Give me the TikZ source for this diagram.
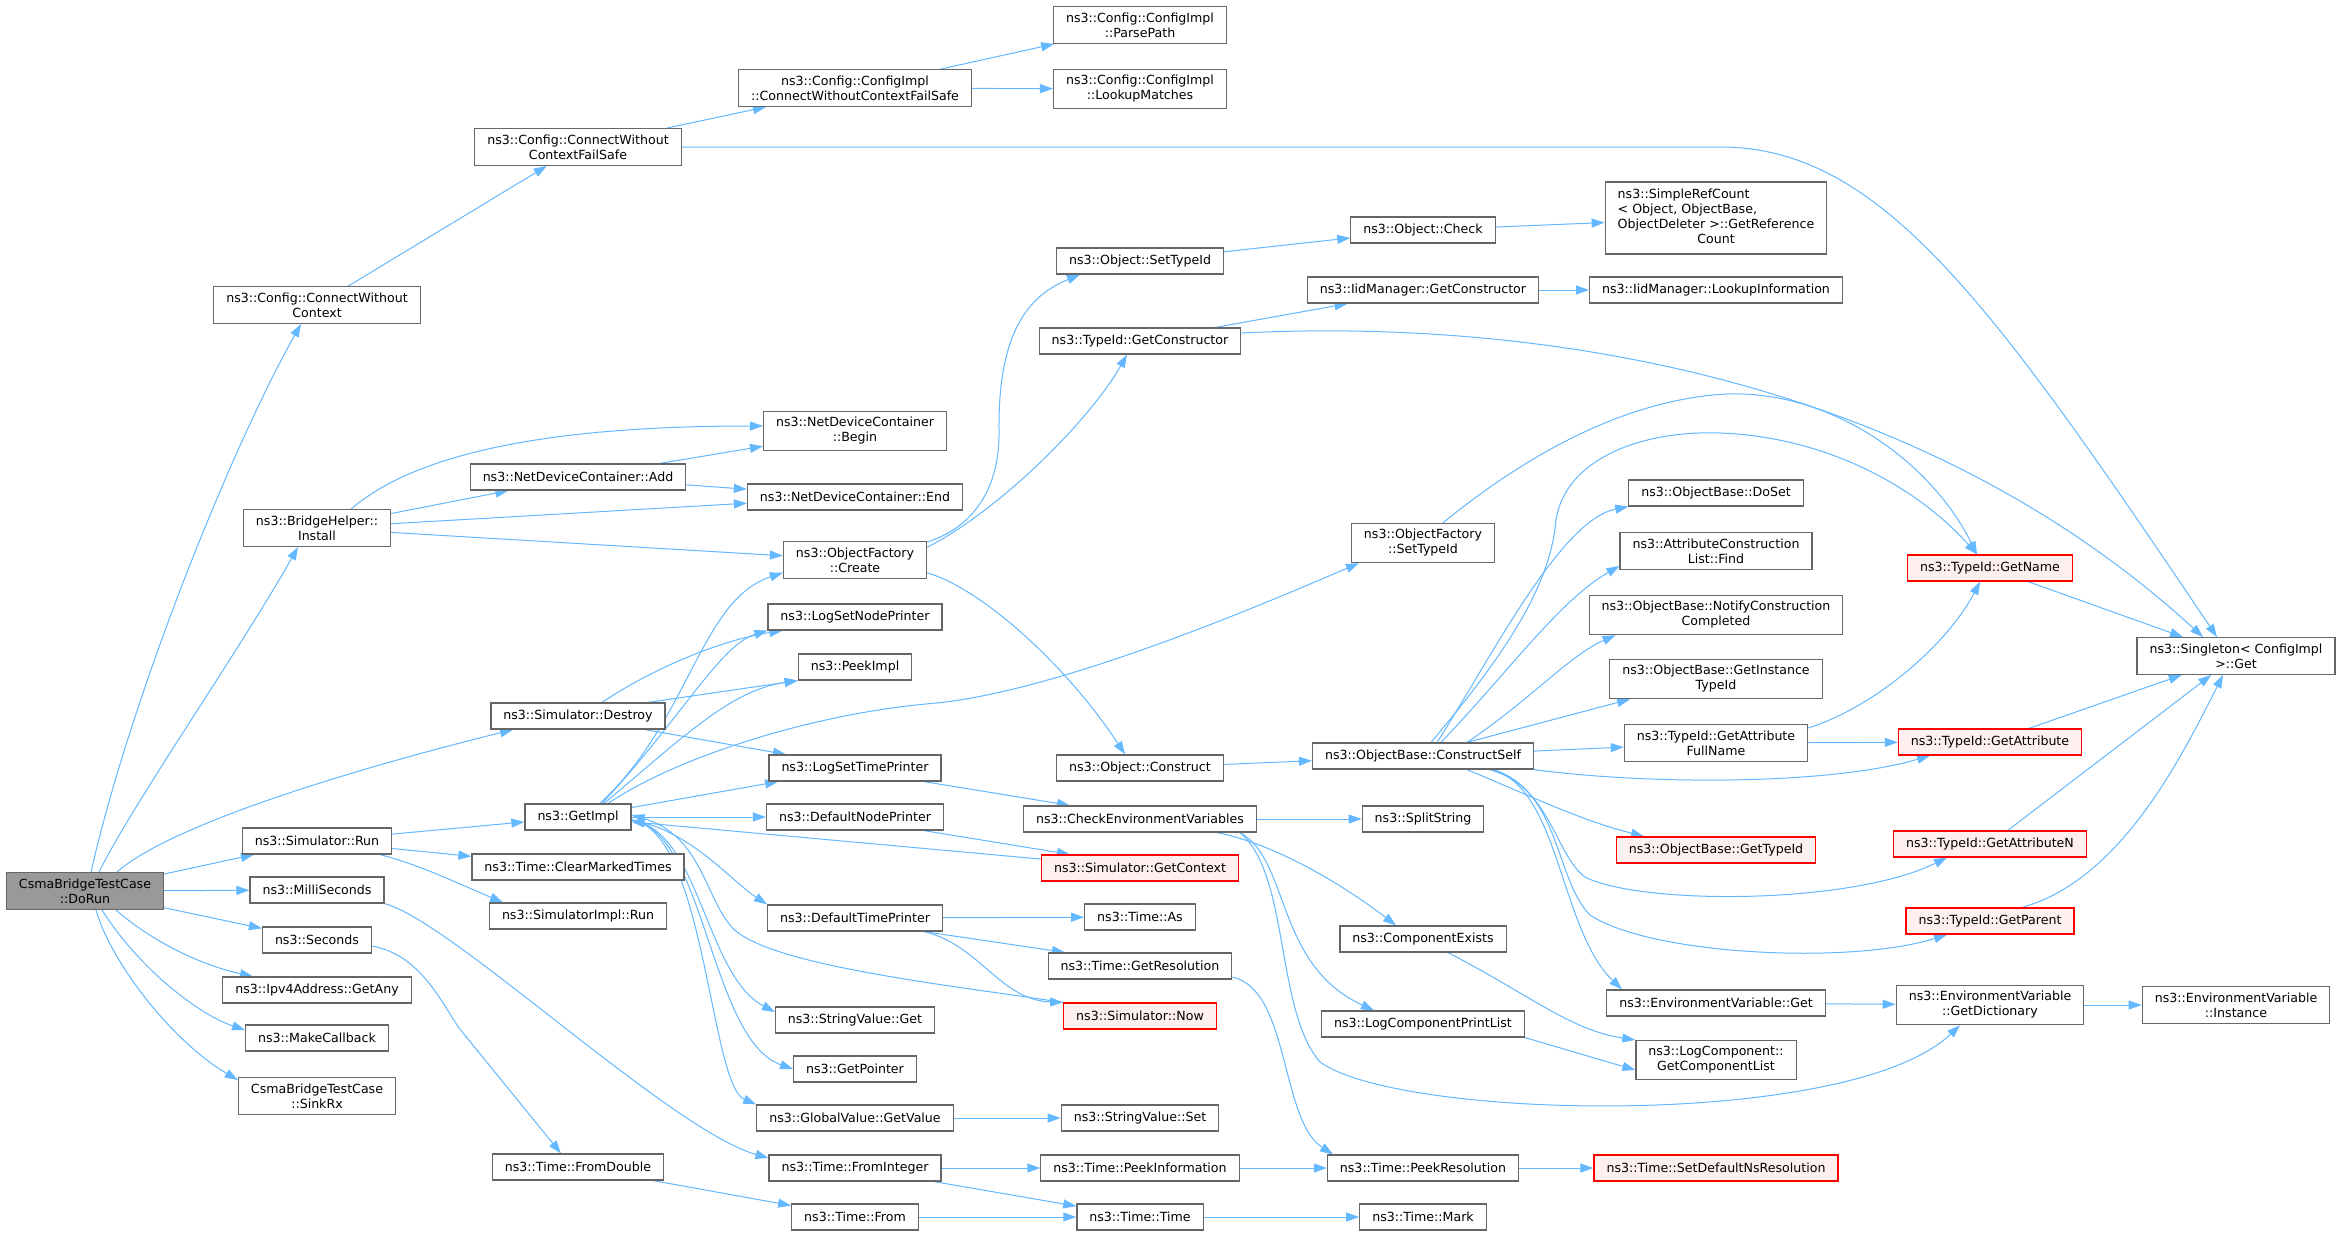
\documentclass[tikz,border=0pt]{standalone}
\usepackage{fontspec}
\setmainfont{DejaVu Sans}
\usepackage{xcolor}
\usetikzlibrary{arrows.meta}
\definecolor{edgeblue}{HTML}{63B8FF}
\definecolor{boxgray}{HTML}{666666}
\definecolor{redfill}{HTML}{FFF0F0}
\definecolor{maingray}{HTML}{999999}
\newcommand{\dxfont}{\fontsize{12.6pt}{15pt}\selectfont}
\pgfdeclarelayer{edges}
\pgfsetlayers{edges,main}
\begin{document}
\begin{tikzpicture}[x=1pt,y=-1pt,>={Triangle[length=13pt,width=9pt]},
        fn/.style={draw=boxgray,line width=1.2pt,fill=white,font=\dxfont,align=center,
                inner xsep=12.5pt,inner ysep=6pt,minimum height=26pt},
        fnred/.style={fn,draw=red,fill=redfill},
        fnmain/.style={fn,fill=maingray},
        call/.style={draw=edgeblue,line width=1pt,->}]
        \useasboundingbox (0,0) rectangle (2341,1235);

        \node[fnmain] (dorun) at (85,891) {CsmaBridgeTestCase\\::DoRun};
        \node[fn] (cwc) at (317,305) {ns3::Config::ConnectWithout\\Context};
        \node[fn] (install) at (317,528) {ns3::BridgeHelper::\\Install};
        \node[fn] (run) at (317,841) {ns3::Simulator::Run};
        \node[fn] (milli) at (317,890) {ns3::MilliSeconds};
        \node[fn] (secs) at (317,940) {ns3::Seconds};
        \node[fn] (getany) at (317,990) {ns3::Ipv4Address::GetAny};
        \node[fn] (mkcb) at (317,1038) {ns3::MakeCallback};
        \node[fn] (sinkrx) at (317,1096) {CsmaBridgeTestCase\\::SinkRx};

        \node[fn] (cwcfs) at (578,147) {ns3::Config::ConnectWithout\\ContextFailSafe};
        \node[fn] (ndcadd) at (578,477) {ns3::NetDeviceContainer::Add};
        \node[fn] (destroy) at (578,716) {ns3::Simulator::Destroy};
        \node[fn] (gimpl) at (578,817) {ns3::GetImpl};
        \node[fn] (clrmark) at (578,867) {ns3::Time::ClearMarkedTimes};
        \node[fn] (simrun) at (578,916) {ns3::SimulatorImpl::Run};
        \node[fn] (fromdbl) at (578,1167) {ns3::Time::FromDouble};

        \node[fn] (cfs) at (855,88) {ns3::Config::ConfigImpl\\::ConnectWithoutContextFailSafe};
        \node[fn] (ndcbegin) at (855,431) {ns3::NetDeviceContainer\\::Begin};
        \node[fn] (ndcend) at (855,497) {ns3::NetDeviceContainer::End};
        \node[fn] (create) at (855,560) {ns3::ObjectFactory\\::Create};
        \node[fn] (lsnp) at (855,617) {ns3::LogSetNodePrinter};
        \node[fn] (peek) at (855,667) {ns3::PeekImpl};
        \node[fn] (lstp) at (855,768) {ns3::LogSetTimePrinter};
        \node[fn] (dnp) at (855,817) {ns3::DefaultNodePrinter};
        \node[fn] (dtp) at (855,918) {ns3::DefaultTimePrinter};
        \node[fn] (svget) at (855,1020) {ns3::StringValue::Get};
        \node[fn] (gptr) at (855,1069) {ns3::GetPointer};
        \node[fn] (gvget) at (855,1118) {ns3::GlobalValue::GetValue};
        \node[fn] (fromint) at (855,1168) {ns3::Time::FromInteger};
        \node[fn] (tfrom) at (855,1217) {ns3::Time::From};

        \node[fn] (parse) at (1140,25) {ns3::Config::ConfigImpl\\::ParsePath};
        \node[fn] (lookup) at (1140,89) {ns3::Config::ConfigImpl\\::LookupMatches};
        \node[fn] (osti) at (1140,261) {ns3::Object::SetTypeId};
        \node[fn] (tgctor) at (1140,341) {ns3::TypeId::GetConstructor};
        \node[fn] (construct) at (1140,768) {ns3::Object::Construct};
        \node[fn] (chkenv) at (1140,819) {ns3::CheckEnvironmentVariables};
        \node[fnred] (gctx) at (1140,868) {ns3::Simulator::GetContext};
        \node[fn] (tas) at (1140,917) {ns3::Time::As};
        \node[fn] (gres) at (1140,966) {ns3::Time::GetResolution};
        \node[fnred] (now) at (1140,1016) {ns3::Simulator::Now};
        \node[fn] (svset) at (1140,1118) {ns3::StringValue::Set};
        \node[fn] (peekinfo) at (1140,1168) {ns3::Time::PeekInformation};
        \node[fn] (ttime) at (1140,1217) {ns3::Time::Time};

        \node[fn] (check) at (1423,230) {ns3::Object::Check};
        \node[fn] (igctor) at (1423,290) {ns3::IidManager::GetConstructor};
        \node[fn] (ofsti) at (1423,543) {ns3::ObjectFactory\\::SetTypeId};
        \node[fn] (cself) at (1423,756) {ns3::ObjectBase::ConstructSelf};
        \node[fn] (split) at (1423,819) {ns3::SplitString};
        \node[fn] (compex) at (1423,939) {ns3::ComponentExists};
        \node[fn] (lcpl) at (1423,1024) {ns3::LogComponentPrintList};
        \node[fn] (peekres) at (1423,1168) {ns3::Time::PeekResolution};
        \node[fn] (tmark) at (1423,1217) {ns3::Time::Mark};

        \node[fn] (srcount) at (1716,218) {\begin{tabular}{@{}l@{}}ns3::SimpleRefCount\\< Object, ObjectBase,\\ObjectDeleter >::GetReference\\\multicolumn{1}{@{}c@{}}{Count}\end{tabular}};
        \node[fn] (lookinfo) at (1716,290) {ns3::IidManager::LookupInformation};
        \node[fn] (doset) at (1716,493) {ns3::ObjectBase::DoSet};
        \node[fn] (acfind) at (1716,551) {ns3::AttributeConstruction\\List::Find};
        \node[fn] (notify) at (1716,615) {ns3::ObjectBase::NotifyConstruction\\Completed};
        \node[fn] (ginst) at (1716,679) {ns3::ObjectBase::GetInstance\\TypeId};
        \node[fn] (gafull) at (1716,743) {ns3::TypeId::GetAttribute\\FullName};
        \node[fnred] (obgtid) at (1716,850) {ns3::ObjectBase::GetTypeId};
        \node[fn] (evget) at (1716,1003) {ns3::EnvironmentVariable::Get};
        \node[fn] (gclist) at (1716,1060) {ns3::LogComponent::\\GetComponentList};
        \node[fnred] (setdef) at (1716,1168) {ns3::Time::SetDefaultNsResolution};

        \node[fnred] (gname) at (1990,568) {ns3::TypeId::GetName};
        \node[fnred] (gattr) at (1990,742) {ns3::TypeId::GetAttribute};
        \node[fnred] (gattrn) at (1990,844) {ns3::TypeId::GetAttributeN};
        \node[fnred] (gparent) at (1990,921) {ns3::TypeId::GetParent};
        \node[fn] (gdict) at (1990,1005) {ns3::EnvironmentVariable\\::GetDictionary};

        \node[fn] (single) at (2236,656) {ns3::Singleton< ConfigImpl\\>::Get};
        \node[fn] (envinst) at (2236,1005) {ns3::EnvironmentVariable\\::Instance};

        \begin{pgfonlayer}{edges}
        \fill[white] (0,0) rectangle (2341,1235);
        \draw[call] ([xshift=6pt]dorun.north) .. controls (130,700) and (230,450) .. ([xshift=-16pt]cwc.south);
        \draw[call] ([xshift=14pt]dorun.north) .. controls (135,800) and (240,650) .. ([xshift=-19pt]install.south);
        \draw[call] ([xshift=32pt]dorun.north) .. controls (170,825) and (350,770) .. ([xshift=-65pt]destroy.south);
        \draw[call] (dorun) -- (run);
        \draw[call] (dorun) -- (milli);
        \draw[call] (dorun) -- (secs);
        \draw[call] ([xshift=31pt]dorun.south) .. controls (150,940) and (200,965) .. ([xshift=-64pt]getany.north);
        \draw[call] ([xshift=17pt]dorun.south) .. controls (140,970) and (200,1015) .. ([yshift=8pt]mkcb.west);
        \draw[call] ([xshift=11pt]dorun.south) .. controls (110,960) and (170,1040) .. ([yshift=-3pt]sinkrx.north west);

        \draw[call] (cwc) -- (cwcfs);
        \draw[call] (cwcfs) -- (cfs);
        \draw[call] (cwcfs.east) -- (1720,147) .. controls (1880,147) and (1990,300) .. ([xshift=-19pt]single.north);
        \draw[call] (cfs) -- (parse);
        \draw[call] (cfs) -- (lookup);

        \draw[call] ([xshift=34pt]install.north) .. controls (420,450) and (560,426) .. ([yshift=5pt]ndcbegin.west);
        \draw[call] (install) -- (ndcadd);
        \draw[call] (install) -- (ndcend);
        \draw[call] (install) -- (create);
        \draw[call] (ndcadd) -- (ndcbegin);
        \draw[call] (ndcadd) -- (ndcend);

        \draw[call] (create.14) .. controls (980,525) and (1000,480) .. (999,430) .. controls (998,330) and (1030,295) .. ([xshift=-60pt]osti.south);
        \draw[call] (create.10) .. controls (1000,510) and (1090,420) .. ([xshift=-13pt]tgctor.south);
        \draw[call] (create.-10) .. controls (985,590) and (1070,670) .. ([xshift=-15pt]construct.north);

        \draw[call] ([xshift=22pt]gimpl.north) .. controls (690,720) and (700,600) .. (create.190);
        \draw[call] ([xshift=24pt]gimpl.north) .. controls (680,720) and (720,645) .. (lsnp.south west);
        \draw[call] ([xshift=26pt]gimpl.north) .. controls (680,740) and (730,690) .. (peek.south west);
        \draw[call] ([xshift=30pt]gimpl.north) .. controls (680,755) and (820,712) .. (937,703) .. controls (1060,690) and (1250,610) .. ([xshift=8pt]ofsti.south west);
        \draw[call] (gimpl) -- (lstp);
        \draw[call] (gimpl) -- (dnp);
        \draw[call] ([yshift=-3pt]gimpl.east) .. controls (690,830) and (730,880) .. (dtp.north west);
        \draw[call] ([yshift=-3pt]gimpl.east) .. controls (700,830) and (705,975) .. ([yshift=8pt]svget.west);
        \draw[call] ([yshift=-3pt]gimpl.east) .. controls (705,830) and (710,1040) .. (gptr.west);
        \draw[call] ([yshift=-3pt]gimpl.east) .. controls (705,830) and (710,1085) .. (gvget.north west);
        \draw[call] (gctx) -- (gimpl);
        \draw[call] (now.north west) .. controls (950,985) and (760,965) .. (730,925) .. controls (705,895) and (700,835) .. ([yshift=2pt]gimpl.east);

        \draw[call] ([xshift=24pt]destroy.north) .. controls (650,670) and (720,640) .. ([xshift=15pt]lsnp.south west);
        \draw[call] ([xshift=70pt]destroy.north) -- (peek.south west);
        \draw[call] ([xshift=67pt]destroy.south) -- ([xshift=-69pt]lstp.north);

        \draw[call] (run) -- (gimpl);
        \draw[call] (run) -- (clrmark);
        \draw[call] ([xshift=63pt]run.south) .. controls (420,865) and (450,880) .. ([xshift=-75pt]simrun.north);
        \draw[call] (milli.south east) .. controls (450,920) and (670,1130) .. ([yshift=10pt]fromint.west);
        \draw[call] ([yshift=-6pt]secs.east) .. controls (420,955) and (440,1000) .. (459,1028) -- ([xshift=-17pt]fromdbl.north);
        \draw[call] (fromdbl) -- (tfrom);
        \draw[call] (fromint) -- (peekinfo);
        \draw[call] (fromint) -- (ttime);
        \draw[call] (tfrom) -- (ttime);
        \draw[call] (ttime) -- (tmark);
        \draw[call] (peekinfo) -- (peekres);
        \draw[call] (peekres) -- (setdef);
        \draw[call] ([yshift=-11pt]gres.east) .. controls (1290,990) and (1280,1120) .. ([xshift=-90pt]peekres.north);

        \draw[call] ([xshift=-20pt]dnp.south east) -- ([xshift=-70pt]gctx.north);
        \draw[call] ([xshift=69pt]dtp.south) -- ([xshift=-75pt]gres.north);
        \draw[call] (dtp) -- (tas);
        \draw[call] ([xshift=69pt]dtp.south) .. controls (980,945) and (1000,1000) .. (now.north west);
        \draw[call] ([xshift=69pt]lstp.south) -- ([xshift=-70pt]chkenv.north);
        \draw[call] (gvget) -- (svset);

        \draw[call] (construct) -- (cself);
        \draw[call] (chkenv) -- (split);
        \draw[call] ([xshift=77pt]chkenv.south) .. controls (1280,845) and (1350,890) .. ([xshift=-27pt]compex.north);
        \draw[call] ([xshift=100pt]chkenv.south) .. controls (1290,860) and (1275,965) .. ([xshift=-49pt]lcpl.north);
        \draw[call] ([xshift=100pt]chkenv.south) .. controls (1290,875) and (1275,1010) .. (1320,1062) .. controls (1400,1120) and (1850,1130) .. ([xshift=-30pt]gdict.south);
        \draw[call] ([xshift=25pt]compex.south) .. controls (1530,995) and (1570,1030) .. (gclist.north west);
        \draw[call] (lcpl.south east) -- ([yshift=-10pt]gclist.west);

        \draw[call] ([xshift=8pt]cself.north) .. controls (1500,660) and (1550,590) .. (1556,520) .. controls (1565,460) and (1640,430) .. (1720,433) .. controls (1830,437) and (1920,490) .. ([xshift=-13pt]gname.north);
        \draw[call] ([xshift=20pt]ofsti.north) .. controls (1520,460) and (1620,400) .. (1726,394) .. controls (1830,390) and (1930,460) .. ([xshift=-13pt]gname.north);
        \draw[call] ([xshift=14pt]cself.north) .. controls (1490,660) and (1560,520) .. (doset.south west);
        \draw[call] ([xshift=18pt]cself.north) .. controls (1510,670) and (1560,600) .. ([yshift=-15pt]acfind.west);
        \draw[call] ([xshift=44pt]cself.north) .. controls (1530,700) and (1570,655) .. ([xshift=27pt]notify.south west);
        \draw[call] ([xshift=44pt]cself.north) -- ([xshift=-86pt]ginst.south);
        \draw[call] (cself) -- (gafull);
        \draw[call] (cself.south east) .. controls (1650,785) and (1830,785) .. ([xshift=-60pt]gattr.south);
        \draw[call] ([xshift=44pt]cself.south) .. controls (1540,800) and (1580,820) .. ([xshift=-72pt]obgtid.north);
        \draw[call] ([xshift=66pt]cself.south) .. controls (1550,785) and (1555,855) .. (1585,877) .. controls (1640,905) and (1850,905) .. ([xshift=-43pt]gattrn.south);
        \draw[call] ([xshift=70pt]cself.south) .. controls (1560,790) and (1555,880) .. (1590,915) .. controls (1650,955) and (1850,965) .. ([xshift=-43pt]gparent.south);
        \draw[call] ([xshift=70pt]cself.south) .. controls (1560,790) and (1560,930) .. ([xshift=-94pt]evget.north);
        \draw[call] ([yshift=-4pt]gafull.north east) .. controls (1880,705) and (1950,640) .. ([xshift=-10pt]gname.south);
        \draw[call] (gafull) -- (gattr);
        \draw[call] (evget) -- (gdict);
        \draw[call] (gdict) -- (envinst);

        \draw[call] (gname) -- (single);
        \draw[call] (gattr) -- (single);
        \draw[call] (gattrn) -- (single);
        \draw[call] ([xshift=32pt]gparent.north) .. controls (2120,880) and (2180,760) .. ([xshift=-13pt]single.south);
        \draw[call] ([yshift=8pt]tgctor.east) .. controls (1500,320) and (1900,360) .. ([xshift=-33pt]single.north);
        \draw[call] (tgctor) -- (igctor);
        \draw[call] (igctor) -- (lookinfo);
        \draw[call] (osti) -- (check);
        \draw[call] (check) -- (srcount);
        \end{pgfonlayer}
\end{tikzpicture}
\end{document}
